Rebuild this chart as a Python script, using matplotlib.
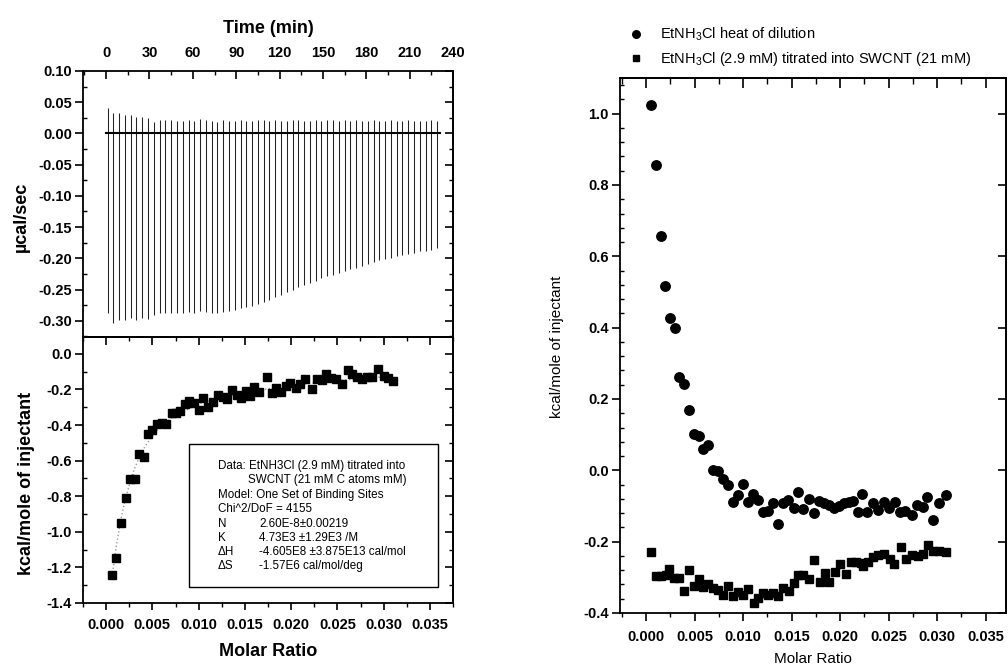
import matplotlib
matplotlib.use("Agg")
import matplotlib.pyplot as plt
from matplotlib.ticker import MultipleLocator, FormatStrFormatter, NullFormatter
from matplotlib.patches import Rectangle

plt.rcParams['font.family'] = ['Liberation Sans', 'DejaVu Sans']
plt.rcParams['mathtext.fontset'] = 'custom'
plt.rcParams['mathtext.rm'] = 'Liberation Sans'
plt.rcParams['mathtext.it'] = 'Liberation Sans'
plt.rcParams['axes.unicode_minus'] = False

# ---------------- data ----------------
# raw ITC trace: injection times (min), spike tops and troughs (ucal/sec)
inj_time = [1, 5, 9, 13, 17, 21, 25, 29, 33, 37, 41, 45, 49, 53, 57, 61, 65, 69, 73, 77,
            81, 85, 89, 93, 97, 101, 105, 109, 113, 117, 121, 125, 129, 133, 137, 141, 145, 149, 153, 157,
            161, 165, 169, 173, 177, 181, 185, 189, 193, 197, 201, 205, 209, 213, 217, 221, 225, 229]
inj_top = [0.040, 0.033, 0.032, 0.030, 0.029, 0.027, 0.026, 0.025, 0.018, 0.022, 0.021, 0.021, 0.020, 0.020,
           0.021, 0.020, 0.023, 0.021, 0.020, 0.019, 0.021, 0.020, 0.020, 0.021, 0.020, 0.020, 0.021, 0.021,
           0.020, 0.021, 0.020, 0.020, 0.021, 0.022, 0.020, 0.020, 0.021, 0.020, 0.021, 0.021, 0.020, 0.021,
           0.020, 0.021, 0.020, 0.020, 0.021, 0.020, 0.020, 0.021, 0.020, 0.020, 0.021, 0.020, 0.020, 0.020,
           0.021, 0.020]
inj_trough = [-0.288, -0.303, -0.298, -0.298, -0.296, -0.298, -0.296, -0.297, -0.290, -0.288, -0.288,
              -0.287, -0.288, -0.287, -0.286, -0.287, -0.285, -0.286, -0.288, -0.287, -0.286, -0.284,
              -0.282, -0.280, -0.278, -0.276, -0.273, -0.270, -0.266, -0.262, -0.258, -0.254, -0.250,
              -0.246, -0.242, -0.239, -0.236, -0.232, -0.229, -0.226, -0.223, -0.220, -0.217, -0.215,
              -0.212, -0.209, -0.206, -0.203, -0.201, -0.199, -0.197, -0.195, -0.193, -0.191, -0.189,
              -0.188, -0.186, -0.184]
baseline_t = [0, 231]
baseline_y = [0.0, 0.0]

# integrated heats (left lower panel)
fit_ratio = [0.0006, 0.0011, 0.0016, 0.0021, 0.0026, 0.0031, 0.0036, 0.0041, 0.0046, 0.0051,
             0.0061, 0.0071, 0.0081, 0.0101, 0.0121, 0.0151, 0.0181, 0.0211, 0.0241, 0.0271, 0.0310]
fit_heat = [-1.27, -1.08, -0.93, -0.81, -0.72, -0.64, -0.58, -0.53, -0.49, -0.45,
            -0.40, -0.36, -0.33, -0.28, -0.25, -0.22, -0.19, -0.17, -0.155, -0.14, -0.125]
left_ratio = [0.0006, 0.0011, 0.0016, 0.0021, 0.0026, 0.0031, 0.0036, 0.0041, 0.0045, 0.0050,
              0.0055, 0.0060, 0.0065, 0.0071, 0.0075, 0.0080, 0.0085, 0.0090, 0.0095, 0.0100,
              0.0105, 0.0110, 0.0115, 0.0121, 0.0126, 0.0131, 0.0136, 0.0141, 0.0146, 0.0151,
              0.0156, 0.0160, 0.0165, 0.0174, 0.0179, 0.0184, 0.0189, 0.0194, 0.0199, 0.0205,
              0.0210, 0.0215, 0.0223, 0.0228, 0.0233, 0.0238, 0.0243, 0.0248, 0.0255, 0.0261,
              0.0266, 0.0271, 0.0277, 0.0282, 0.0287, 0.0294, 0.0300, 0.0305, 0.0310]
left_heat = [-1.245, -1.146, -0.949, -0.809, -0.702, -0.702, -0.562, -0.582, -0.449, -0.427,
             -0.395, -0.389, -0.395, -0.330, -0.333, -0.320, -0.283, -0.262, -0.277, -0.315,
             -0.247, -0.296, -0.273, -0.230, -0.243, -0.253, -0.202, -0.230, -0.249, -0.208,
             -0.236, -0.184, -0.215, -0.131, -0.220, -0.190, -0.215, -0.178, -0.163, -0.192,
             -0.170, -0.140, -0.200, -0.140, -0.145, -0.115, -0.135, -0.140, -0.170, -0.093,
             -0.112, -0.130, -0.140, -0.130, -0.130, -0.087, -0.125, -0.135, -0.155]

# right panel: heat of dilution (circles)
dil_ratio = [0.0005, 0.0010, 0.0015, 0.0019, 0.0025, 0.0030, 0.0034, 0.0039, 0.0044, 0.0049,
             0.0054, 0.0059, 0.0064, 0.0069, 0.0074, 0.0079, 0.0084, 0.0089, 0.0095, 0.0100,
             0.0105, 0.0110, 0.0115, 0.0120, 0.0126, 0.0131, 0.0136, 0.0141, 0.0146, 0.0152,
             0.0157, 0.0162, 0.0168, 0.0173, 0.0178, 0.0183, 0.0188, 0.0194, 0.0199, 0.0204,
             0.0209, 0.0213, 0.0218, 0.0223, 0.0228, 0.0234, 0.0239, 0.0245, 0.0250, 0.0257,
             0.0262, 0.0267, 0.0274, 0.0279, 0.0285, 0.0290, 0.0296, 0.0302, 0.0309]
dil_heat = [1.023, 0.856, 0.658, 0.518, 0.428, 0.400, 0.261, 0.242, 0.170, 0.103,
            0.097, 0.061, 0.071, 0.002, -0.002, -0.025, -0.041, -0.090, -0.068, -0.037,
            -0.089, -0.066, -0.083, -0.117, -0.115, -0.092, -0.151, -0.092, -0.082, -0.106,
            -0.060, -0.108, -0.080, -0.121, -0.087, -0.092, -0.096, -0.106, -0.099, -0.092,
            -0.089, -0.087, -0.116, -0.066, -0.116, -0.092, -0.111, -0.089, -0.106, -0.089,
            -0.118, -0.115, -0.125, -0.097, -0.102, -0.074, -0.140, -0.092, -0.070]

# right panel: titration into SWCNT (squares)
tit_ratio = [0.0005, 0.0010, 0.0015, 0.0020, 0.0024, 0.0029, 0.0034, 0.0039, 0.0044, 0.0049,
             0.0054, 0.0059, 0.0064, 0.0069, 0.0074, 0.0079, 0.0084, 0.0089, 0.0095, 0.0100,
             0.0105, 0.0111, 0.0115, 0.0120, 0.0126, 0.0131, 0.0136, 0.0141, 0.0147, 0.0152,
             0.0157, 0.0162, 0.0168, 0.0173, 0.0179, 0.0184, 0.0189, 0.0195, 0.0200, 0.0206,
             0.0211, 0.0216, 0.0221, 0.0224, 0.0229, 0.0234, 0.0239, 0.0245, 0.0251, 0.0256,
             0.0263, 0.0268, 0.0274, 0.0280, 0.0285, 0.0291, 0.0296, 0.0302, 0.0309]
tit_heat = [-0.229, -0.297, -0.297, -0.294, -0.276, -0.302, -0.302, -0.337, -0.280, -0.323,
            -0.304, -0.327, -0.318, -0.329, -0.335, -0.350, -0.323, -0.351, -0.340, -0.349,
            -0.333, -0.371, -0.357, -0.344, -0.349, -0.344, -0.353, -0.331, -0.337, -0.317,
            -0.294, -0.294, -0.304, -0.252, -0.314, -0.288, -0.314, -0.285, -0.264, -0.291,
            -0.257, -0.257, -0.259, -0.267, -0.257, -0.243, -0.236, -0.234, -0.248, -0.262,
            -0.215, -0.248, -0.236, -0.239, -0.234, -0.209, -0.225, -0.225, -0.229]

box_col1 = ["Data: EtNH3Cl (2.9 mM) titrated into", "", "Model: One Set of Binding Sites",
            "Chi^2/DoF = 4155", "N", "K", "ΔH", "ΔS"]
box_col2 = ["", "SWCNT (21 mM C atoms mM)", "", "", "2.60E-8±0.00219", "4.73E3 ±1.29E3 /M",
            "-4.605E8 ±3.875E13 cal/mol", "-1.57E6 cal/mol/deg"]
legend_labels = ["EtNH$_3$Cl heat of dilution", "EtNH$_3$Cl (2.9 mM) titrated into SWCNT (21 mM)"]

# ---------------- figure ----------------
W, H = 1008, 665
fig = plt.figure(figsize=(W / 100, H / 100), dpi=100)

def fx(px):
    return px / W

def fy(py):
    return (H - py) / H

TICK_FS = 10.5
LAB_FS = 13

ax_t = fig.add_axes([fx(83), fy(337), fx(453) - fx(83), fy(71) - fy(337)])
ax_b = fig.add_axes([fx(83), fy(603), fx(453) - fx(83), fy(337) - fy(603)])
ax_r = fig.add_axes([fx(620), fy(613), fx(1006) - fx(620), fy(78) - fy(613)])

for ax in (ax_t, ax_b, ax_r):
    for s in ax.spines.values():
        s.set_linewidth(1.3)

# ---- top-left: raw trace ----
ax_t.vlines(inj_time, inj_trough, inj_top, colors='#222222', linewidth=0.75)
ax_t.plot(baseline_t, baseline_y, color='black', linewidth=1.5)
ax_t.set_xlim(-16, 240)
ax_t.set_ylim(-0.326, 0.10)
ax_t.xaxis.tick_top()
ax_t.xaxis.set_label_position('top')
ax_t.xaxis.set_major_locator(MultipleLocator(30))
ax_t.xaxis.set_minor_locator(MultipleLocator(15))
ax_t.yaxis.set_major_locator(MultipleLocator(0.05))
ax_t.yaxis.set_minor_locator(MultipleLocator(0.025))
ax_t.yaxis.set_major_formatter(FormatStrFormatter('%.2f'))
ax_t.tick_params(axis='x', which='major', direction='in', length=6, width=1.2, pad=8,
                 labelsize=TICK_FS, top=True, bottom=False)
ax_t.tick_params(axis='x', which='minor', direction='in', length=3, width=1.0, top=True, bottom=False)
ax_t.tick_params(axis='y', which='major', direction='out', length=6, width=1.2, labelsize=TICK_FS, pad=2)
ax_t.tick_params(axis='y', which='minor', direction='in', length=3, width=1.0)
sy = ax_t.secondary_yaxis('right')
sy.yaxis.set_major_locator(MultipleLocator(0.05))
sy.yaxis.set_minor_locator(MultipleLocator(0.025))
sy.tick_params(which='major', direction='in', length=6, width=1.2)
sy.tick_params(which='minor', direction='in', length=3, width=1.0)
sy.yaxis.set_major_formatter(NullFormatter())
sy.spines['right'].set_linewidth(1.3)
ax_t.set_xlabel("Time (min)", fontsize=LAB_FS, fontweight='bold')
ax_t.xaxis.set_label_coords(0.5, (337 - 33) / 266)
ax_t.set_ylabel("µcal/sec", fontsize=LAB_FS, fontweight='bold')
ax_t.yaxis.set_label_coords((30 - 83) / 370, (337 - 217) / 266)
for lab in ax_t.get_xticklabels() + ax_t.get_yticklabels():
    lab.set_fontweight('bold')

# ---- bottom-left: integrated heats ----
ax_b.plot(fit_ratio, fit_heat, color='#999999', linestyle=':', linewidth=1.0)
ax_b.plot(left_ratio, left_heat, linestyle='none', marker='s', markersize=6.2, color='black')
ax_b.set_xlim(-0.0025, 0.0375)
ax_b.set_ylim(-1.4, 0.095)
ax_b.xaxis.set_major_locator(MultipleLocator(0.005))
ax_b.xaxis.set_minor_locator(MultipleLocator(0.0025))
ax_b.xaxis.set_major_formatter(FormatStrFormatter('%.3f'))
ax_b.yaxis.set_major_locator(MultipleLocator(0.2))
ax_b.yaxis.set_minor_locator(MultipleLocator(0.1))
ax_b.yaxis.set_major_formatter(FormatStrFormatter('%.1f'))
ax_b.tick_params(axis='x', which='major', direction='out', length=5, width=1.2, labelsize=TICK_FS, pad=6)
ax_b.tick_params(axis='x', which='minor', direction='out', length=3, width=1.0)
ax_b.tick_params(axis='y', which='major', direction='out', length=6, width=1.2, labelsize=TICK_FS, pad=2)
ax_b.tick_params(axis='y', which='minor', direction='in', length=3, width=1.0)
sx = ax_b.secondary_xaxis('top')
sx.xaxis.set_major_locator(MultipleLocator(0.005))
sx.xaxis.set_minor_locator(MultipleLocator(0.0025))
sx.tick_params(which='major', direction='in', length=6, width=1.2)
sx.tick_params(which='minor', direction='in', length=3, width=1.0)
sx.xaxis.set_major_formatter(NullFormatter())
sx.spines['top'].set_linewidth(1.3)
sy2 = ax_b.secondary_yaxis('right')
sy2.yaxis.set_major_locator(MultipleLocator(0.2))
sy2.yaxis.set_minor_locator(MultipleLocator(0.1))
sy2.tick_params(which='major', direction='in', length=6, width=1.2)
sy2.tick_params(which='minor', direction='in', length=3, width=1.0)
sy2.yaxis.set_major_formatter(NullFormatter())
sy2.spines['right'].set_linewidth(1.3)
ax_b.set_xlabel("Molar Ratio", fontsize=LAB_FS, fontweight='bold')
ax_b.xaxis.set_label_coords(0.5, (603 - 643) / 266)
ax_b.set_ylabel("kcal/mole of injectant", fontsize=LAB_FS, fontweight='bold')
ax_b.yaxis.set_label_coords((35 - 83) / 370, (603 - 483) / 266)
for lab in ax_b.get_xticklabels() + ax_b.get_yticklabels():
    lab.set_fontweight('bold')

# text box
ax_b.add_patch(Rectangle(((189 - 83) / 370, (603 - 587) / 266), (438 - 189) / 370, (587 - 444) / 266,
                         transform=ax_b.transAxes, fill=False, edgecolor='black', linewidth=1.0))
line_y = [466, 480, 495, 509, 524, 538, 552, 566]
for i in range(len(box_col1)):
    yy = (603 - line_y[i]) / 266
    if box_col1[i]:
        ax_b.text((218 - 83) / 370, yy, box_col1[i], transform=ax_b.transAxes, fontsize=8.4,
                  va='center', ha='left')
    if box_col2[i]:
        x2 = 248 if i == 1 else 259
        ax_b.text((x2 - 83) / 370, yy, box_col2[i], transform=ax_b.transAxes, fontsize=8.4,
                  va='center', ha='left')

# ---- right panel ----
ax_r.plot(dil_ratio, dil_heat, linestyle='none', marker='o', markersize=6.8, color='black',
          label=legend_labels[0])
ax_r.plot(tit_ratio, tit_heat, linestyle='none', marker='s', markersize=5.6, color='black',
          label=legend_labels[1])
ax_r.set_xlim(-0.0027, 0.0371)
ax_r.set_ylim(-0.4, 1.1)
ax_r.xaxis.set_major_locator(MultipleLocator(0.005))
ax_r.xaxis.set_minor_locator(MultipleLocator(0.0025))
ax_r.xaxis.set_major_formatter(FormatStrFormatter('%.3f'))
ax_r.yaxis.set_major_locator(MultipleLocator(0.2))
ax_r.yaxis.set_minor_locator(MultipleLocator(0.04))
ax_r.yaxis.set_major_formatter(FormatStrFormatter('%.1f'))
ax_r.tick_params(axis='x', which='major', direction='out', length=6, width=1.2, labelsize=TICK_FS, pad=6)
ax_r.tick_params(axis='x', which='minor', direction='out', length=3, width=1.0)
ax_r.tick_params(axis='y', which='major', direction='out', length=6, width=1.2, labelsize=TICK_FS, pad=2)
ax_r.tick_params(axis='y', which='minor', direction='in', length=3, width=1.0)
sxr = ax_r.secondary_xaxis('top')
sxr.xaxis.set_major_locator(MultipleLocator(0.005))
sxr.xaxis.set_minor_locator(MultipleLocator(0.0025))
sxr.tick_params(which='major', direction='in', length=7, width=1.2)
sxr.tick_params(which='minor', direction='in', length=4, width=1.0)
sxr.xaxis.set_major_formatter(NullFormatter())
sxr.spines['top'].set_linewidth(1.3)
syr = ax_r.secondary_yaxis('right')
syr.yaxis.set_major_locator(MultipleLocator(0.2))
syr.yaxis.set_minor_locator(MultipleLocator(0.04))
syr.tick_params(which='major', direction='in', length=6, width=1.2)
syr.tick_params(which='minor', direction='in', length=0, width=0)
syr.yaxis.set_major_formatter(NullFormatter())
syr.spines['right'].set_linewidth(1.3)
ax_r.set_xlabel("Molar Ratio", fontsize=11)
ax_r.xaxis.set_label_coords(0.5, (613 - 652) / 535)
ax_r.set_ylabel("kcal/mole of injectant", fontsize=11)
ax_r.yaxis.set_label_coords((564 - 620) / 386, (613 - 347) / 535)
for lab in ax_r.get_xticklabels() + ax_r.get_yticklabels():
    lab.set_fontweight('bold')

ax_r.legend(loc='upper left', bbox_to_anchor=(fx(629), fy(26)), bbox_transform=fig.transFigure,
            frameon=False, fontsize=10.5, handlelength=0.9, handletextpad=1.25, borderpad=0,
            borderaxespad=0, labelspacing=0.45, markerscale=0.8)

fig.savefig("out.png", dpi=100)
